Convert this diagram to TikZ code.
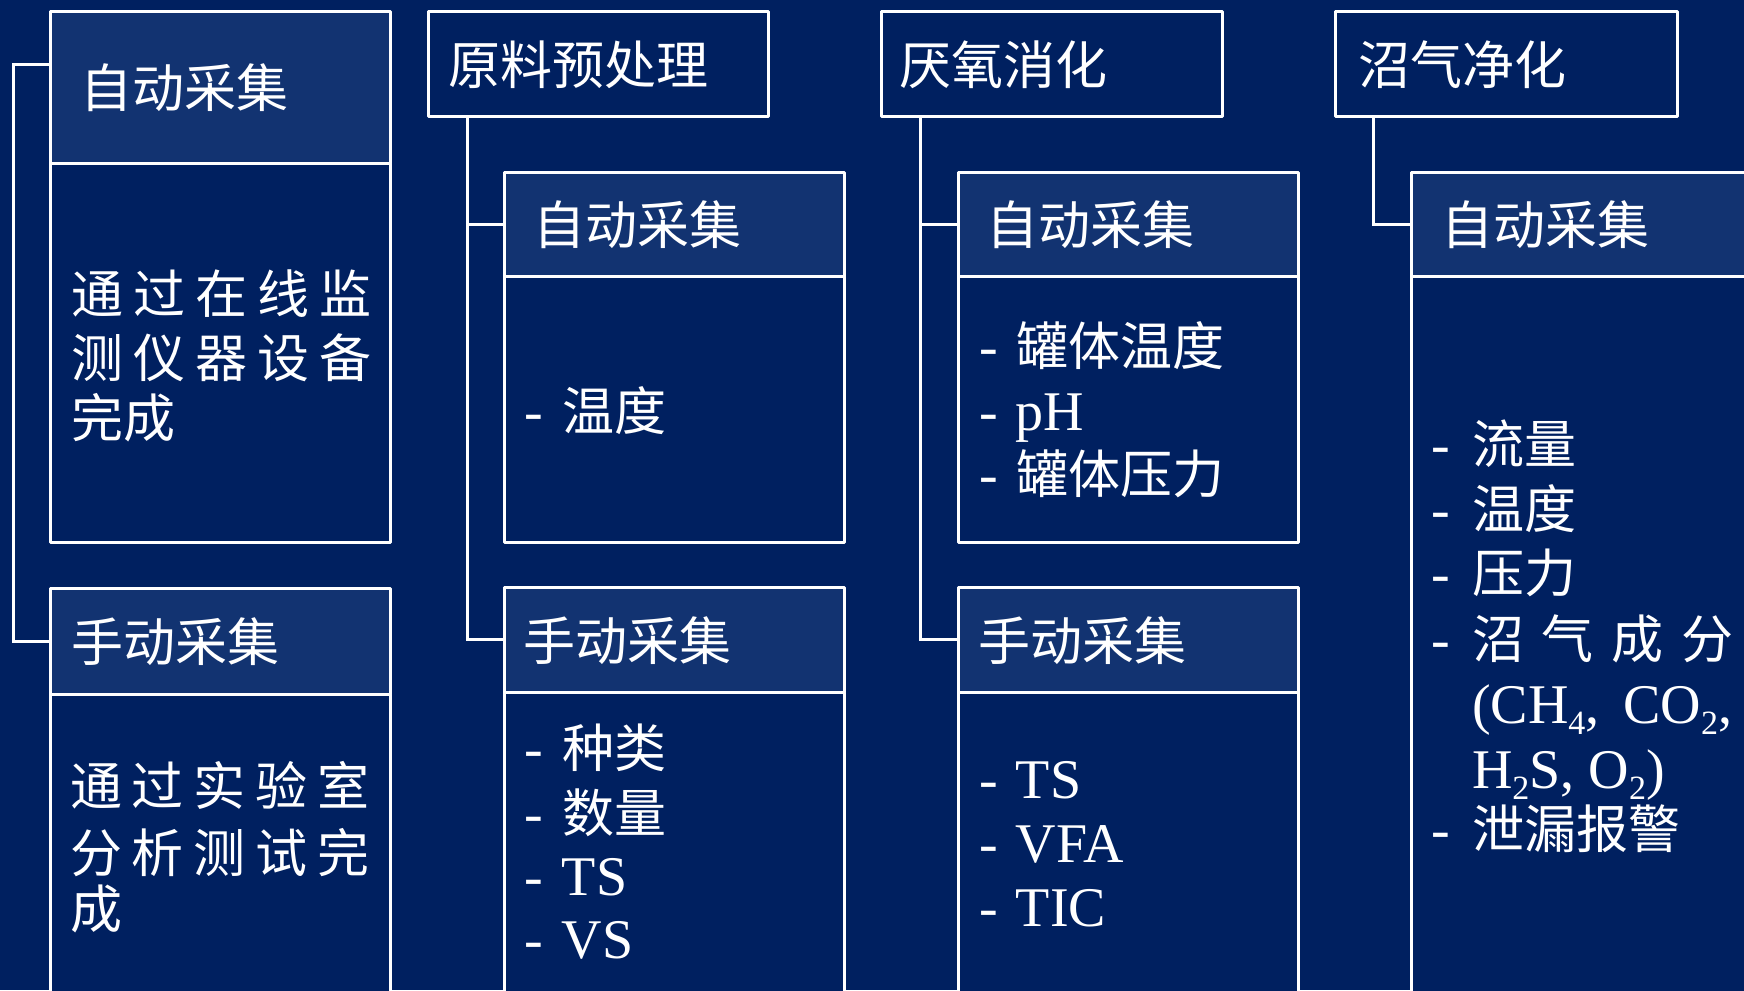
\documentclass[tikz,border=0pt]{standalone}
\usepackage{fontspec}
\setmainfont{Liberation Serif}
\newfontfamily\cjk{Noto Sans CJK SC}
\definecolor{bg}{RGB}{0,32,96}
\definecolor{hd}{RGB}{18,51,113}
\newcommand\dashitem[1][19pt]{\makebox[#1][l]{-}}
\newcommand\zh[1]{{\cjk\fontsize{26}{30}\selectfont #1}}
\newcommand\chemsub[1]{\raisebox{-5.5pt}[0pt][0pt]{\fontsize{17}{17}\selectfont #1}}
\begin{document}
\begin{tikzpicture}[x=0.5pt,y=-0.5pt,
  box/.style={draw=white, line width=1.5pt, line join=round, rectangle, inner sep=0pt, outer sep=0pt, anchor=north west},
  hdr/.style={box, fill=hd},
  bdy/.style={box, fill=bg},
  ttl/.style={inner sep=0pt, outer sep=0pt, anchor=base west, text=white, font=\cjk\fontsize{26}{30}\selectfont},
  itm/.style={inner sep=0pt, outer sep=0pt, anchor=base west, text=white, font=\fontsize{28}{32}\selectfont},
  link/.style={draw=white, line width=1.5pt}
]
\useasboundingbox (0,0) rectangle (1744,990);
\clip (0,0) rectangle (1744,990);
\fill[bg] (0,0) rectangle (1744,990);

% ---- column 1
\node[bdy, minimum width=170pt, minimum height=189.5pt] (A1b) at (50,163) {};
\node[hdr, minimum width=170pt, minimum height=75.5pt] (A1h) at (50,12) {};
\node[bdy, minimum width=170pt, minimum height=158pt] (M1b) at (50,694) {};
\node[hdr, minimum width=170pt, minimum height=53pt] (M1h) at (50,588) {};

% ---- column 2
\node[bdy, minimum width=170pt, minimum height=52.5pt] (T2) at (428,12) {};
\node[bdy, minimum width=170pt, minimum height=133pt] (A2b) at (504,276) {};
\node[hdr, minimum width=170pt, minimum height=52pt] (A2h) at (504,172) {};
\node[bdy, minimum width=170pt, minimum height=159pt] (M2b) at (504,692) {};
\node[hdr, minimum width=170pt, minimum height=52.5pt] (M2h) at (504,587) {};

% ---- column 3
\node[bdy, minimum width=170.5pt, minimum height=52.5pt] (T3) at (881,12) {};
\node[bdy, minimum width=170pt, minimum height=133pt] (A3b) at (958,276) {};
\node[hdr, minimum width=170pt, minimum height=52pt] (A3h) at (958,172) {};
\node[bdy, minimum width=170pt, minimum height=159pt] (M3b) at (958,692) {};
\node[hdr, minimum width=170pt, minimum height=52.5pt] (M3h) at (958,587) {};

% ---- column 4
\node[bdy, minimum width=171pt, minimum height=52.5pt] (T4) at (1335,12) {};
\node[bdy, minimum width=170pt, minimum height=367pt] (A4b) at (1411,276) {};
\node[hdr, minimum width=170pt, minimum height=52pt] (A4h) at (1411,172) {};

% ---- connectors
\coordinate (j1) at (13,65);
\draw[link] (A1h.west |- j1) -- (j1) |- (M1h.west);
\coordinate (v2) at (467,0);
\draw[link] (T2.south -| v2) |- (M2h.west);
\draw[link] (v2 |- A2h.west) -- (A2h.west);
\coordinate (v3) at (920,0);
\draw[link] (T3.south -| v3) |- (M3h.west);
\draw[link] (v3 |- A3h.west) -- (A3h.west);
\coordinate (v4) at (1373,0);
\draw[link] (T4.south -| v4) |- (A4h.west);

% ---- titles
\node[ttl] (A1t) at (80,108) {自动采集};
\node[ttl] (M1t) at (71,661) {手动采集};
\node[ttl] (T2t) at (448,85) {原料预处理};
\node[ttl] (A2t) at (533,244) {自动采集};
\node[ttl] (M2t) at (523,660) {手动采集};
\node[ttl] (T3t) at (899,85) {厌氧消化};
\node[ttl] (A3t) at (986,244) {自动采集};
\node[ttl] (M3t) at (978,660) {手动采集};
\node[ttl] (T4t) at (1358,85) {沼气净化};
\node[ttl] (A4t) at (1441,244) {自动采集};

% ---- column 1 bodies
\node[ttl] (A1l1) at (71,313) {\makebox[150.5pt][s]{通\hfill 过\hfill 在\hfill 线\hfill 监}};
\node[ttl] (A1l2) at (71,377) {\makebox[150.5pt][s]{测\hfill 仪\hfill 器\hfill 设\hfill 备}};
\node[ttl] (A1l3) at (71,437) {完成};
\node[ttl] (M1l1) at (70,805) {\makebox[149.5pt][s]{通\hfill 过\hfill 实\hfill 验\hfill 室}};
\node[ttl] (M1l2) at (70,872) {\makebox[149.5pt][s]{分\hfill 析\hfill 测\hfill 试\hfill 完}};
\node[ttl] (M1l3) at (70,928) {成};

% ---- column 2 bodies
\node[itm] (A2l1) at (524,430) {\dashitem\zh{温度}};
\node[itm] (M2l1) at (524,767) {\dashitem\zh{种类}};
\node[itm] (M2l2) at (524,832) {\dashitem\zh{数量}};
\node[itm] (M2l3) at (524,895.5) {\dashitem TS};
\node[itm] (M2l4) at (524,958.5) {\dashitem VS};

% ---- column 3 bodies
\node[itm] (A3l1) at (979,365) {\dashitem[18.5pt]\zh{罐体温度}};
\node[itm] (A3l2) at (979,430.5) {\dashitem[18.5pt]pH};
\node[itm] (A3l3) at (979,493) {\dashitem[18.5pt]\zh{罐体压力}};
\node[itm] (M3l1) at (979,798.5) {\dashitem[18.5pt]TS};
\node[itm] (M3l2) at (979,862.5) {\dashitem[18.5pt]VFA};
\node[itm] (M3l3) at (979,926.5) {\dashitem[18.5pt]TIC};

% ---- column 4 body
\node[itm] (A4l1) at (1431,463) {\dashitem[20.5pt]\zh{流量}};
\node[itm] (A4l2) at (1431,528) {\dashitem[20.5pt]\zh{温度}};
\node[itm] (A4l3) at (1431,592) {\dashitem[20.5pt]\zh{压力}};
\node[itm] (A4l4) at (1431,658) {\dashitem[20.5pt]\makebox[130.5pt][s]{\zh{沼\hfill 气\hfill 成\hfill 分}}};
\node[itm] (A4l5) at (1472,723.5) {\makebox[130pt][s]{(CH\chemsub{4},\hfill CO\chemsub{2},}};
\node[itm] (A4l6) at (1472,788.5) {H\chemsub{2}S, O\chemsub{2})};
\node[itm] (A4l7) at (1431,848) {\dashitem[20.5pt]\zh{泄漏报警}};
\end{tikzpicture}
\end{document}
